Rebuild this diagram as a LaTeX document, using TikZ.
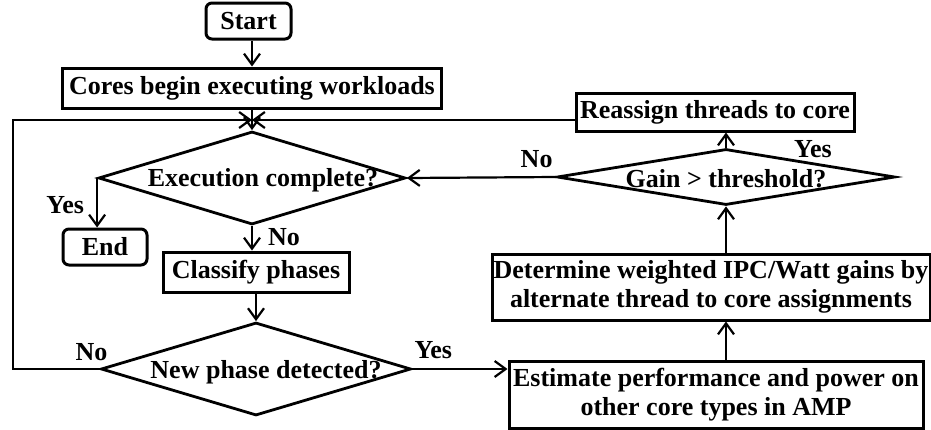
\documentclass[tikz,border=0pt]{standalone}
\usepackage{fontspec}
\setmainfont{Liberation Serif}
\usetikzlibrary{shapes.geometric,arrows.meta,positioning}
\tikzset{>={Straight Barb[length=11pt,width=16pt]}}
\tikzset{
    every node/.style={font=\fontsize{26}{29}\selectfont\bfseries},
    proc/.style={draw,line width=3pt,inner sep=1pt,align=center},
    term/.style={proc,rounded corners=6pt},
    decision/.style={diamond,draw,line width=2.8pt,inner sep=0pt},
    flow/.style={->,line width=2.2pt},
    lbl/.style={inner sep=1pt}
}

\begin{document}
\begin{tikzpicture}[x=1pt,y=-1pt]
    \useasboundingbox (0,0) rectangle (931,429);
    % left column
    \node[term,minimum width=85,minimum height=36] (start) at (248.5,21) {Start};
    \node[proc,minimum width=379,minimum height=40] (cores) at (252,88) {Cores begin executing workloads};
    \node[decision,minimum width=307,minimum height=93,
        label={[xshift=11pt,yshift=-2pt]center:Execution complete?}] (exec) at (252,178) {};
    \node[term,minimum width=84,minimum height=36] (end) at (105,247) {End};
    \node[proc,minimum width=186,minimum height=40] (classify) at (256,272) {Classify phases};
    \node[decision,minimum width=310,minimum height=93,
        label={[xshift=10pt,yshift=-3pt]center:New phase detected?}] (phase) at (256,369) {};
    % right column
    \node[proc,minimum width=414,minimum height=67] (estimate) at (716,394.5)
        {Estimate performance and power on\\other core types in AMP};
    \node[proc,minimum width=438,minimum height=66,inner sep=0pt] (gains) at (711,287)
        {Determine weighted IPC/Watt gains by\\alternate thread to core assignments};
    \node[decision,minimum width=338,minimum height=56,
        label={[yshift=-2pt]center:Gain > threshold?}] (gain) at (726,177) {};
    \node[proc,minimum width=278,minimum height=38] (reassign) at (715,112) {Reassign threads to core};

    \coordinate (join) at (252,120);
    \coordinate (loop) at (13,120);

    \draw[flow] (cores.north |- start.south) -- (cores);
    \draw[flow] (cores) -- (exec);
    \draw[flow] (exec.west) -- node[lbl,pos=0.55,left=11pt] {Yes} (exec.west |- end.north);
    \draw[flow] (exec.south) -- node[lbl,pos=0.44,right=14pt] {No} (exec.south |- classify.north);
    \draw[flow] (classify) -- (phase);
    \draw[flow] (phase.west) -- node[lbl,pos=0,above=6pt,xshift=-8pt] {No}
        (loop |- phase.west) -- (loop) -- (join);
    \draw[flow] (phase.east) -- node[lbl,pos=0,above right=8pt and 0pt] {Yes}
        (estimate.west |- phase.east);
    \draw[flow] (estimate.north -| gain) -- (gains.south -| gain);
    \draw[flow] (gains.north -| gain) -- (gain.south);
    \draw[flow] (gain.north) -- node[lbl,pos=0,anchor=west,xshift=66pt,yshift=-2pt] {Yes}
        (reassign.south -| gain.north);
    \draw[flow] (gain.west) -- node[lbl,pos=0,above left=7pt and 1pt] {No} (exec.east);
    \draw[flow] ([yshift=-8pt]reassign.west) -- (join);
\end{tikzpicture}
\end{document}
